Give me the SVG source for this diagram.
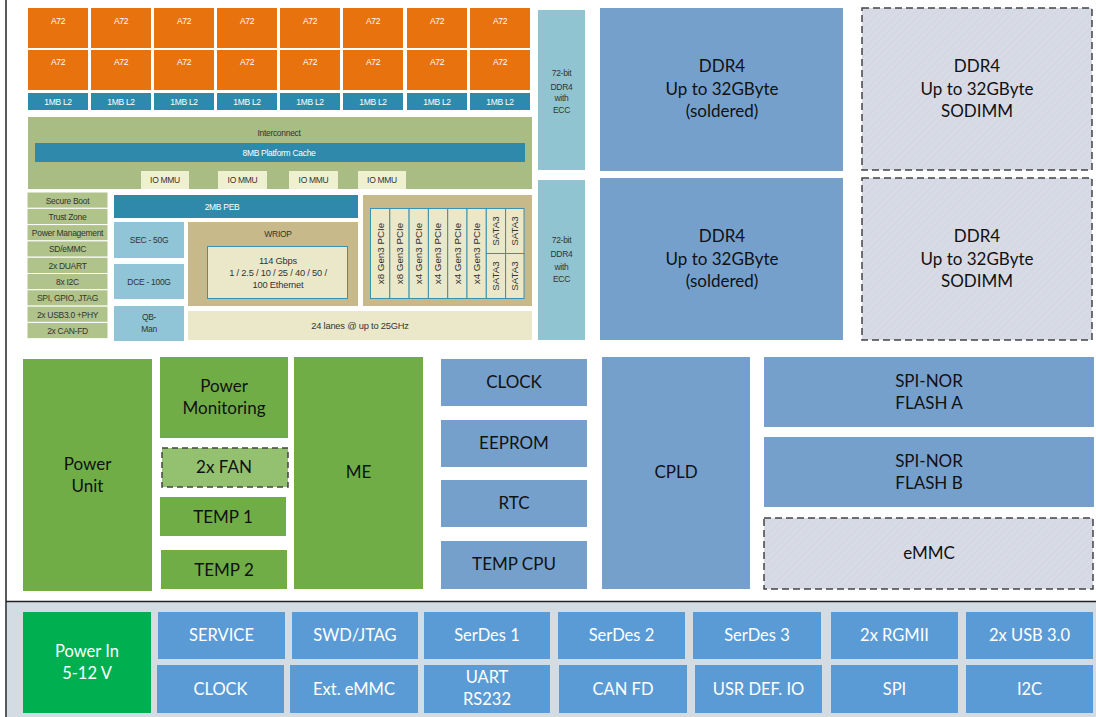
<svg xmlns="http://www.w3.org/2000/svg" width="1096" height="717" viewBox="0 0 1096 717">
<style>
.soc{font-family:"Liberation Sans",Arial,sans-serif;font-size:8.5px;text-anchor:middle;letter-spacing:-0.3px}
.soc2{font-family:"Liberation Sans",Arial,sans-serif;font-size:9.3px;text-anchor:middle;letter-spacing:-0.2px;fill:#333333}
.pci{font-family:"Liberation Sans",Arial,sans-serif;font-size:9.8px;text-anchor:middle;fill:#333333}
.w{fill:#ffffff}
.d{fill:#333333}
.big{font-family:Lato,"Open Sans","Liberation Sans",sans-serif;font-size:17px;text-anchor:middle;fill:#111111}
.bot{font-family:Lato,"Open Sans","Liberation Sans",sans-serif;font-size:16.5px;text-anchor:middle;fill:#ffffff}
.a72{fill:#e8720e}
.l2{fill:#2c8bad}
.teal{fill:#2e89aa}
.mmu{fill:#eef0d0}
.lst{fill:#b0c38a;stroke:#ffffff;stroke-width:1}
.lb{fill:#8fc5d7}
.tan{fill:#c8b98b}
.cream{fill:#ebe8ca}
.pc{fill:#ebe8ca;stroke:#3a91b0;stroke-width:1}
.ecc{fill:#90c4d0}
.ddr{fill:#76a0cc}
.sod{fill:url(#hatch);stroke:#444444;stroke-width:1.5;stroke-dasharray:7 4}
.mb{fill:#76a0cc}
.gr{fill:#70ad47}
.fan{fill:#93c170;stroke:#444444;stroke-width:1.5;stroke-dasharray:6 4}
.bb{fill:#5b9bd5}
</style>
<defs>
<pattern id="hatch" width="5" height="5" patternUnits="userSpaceOnUse" patternTransform="rotate(45)">
<rect width="5" height="5" fill="#d8dbe6"/>
<line x1="0" y1="0" x2="0" y2="5" stroke="#cdd1dd" stroke-width="1"/>
</pattern>
</defs>
<rect x="0" y="0" width="1096" height="717" fill="#ffffff"/>
<rect x="7" y="602" width="1089" height="115" fill="#d4dce3"/>
<line x1="6" y1="0" x2="6" y2="717" stroke="#222222" stroke-width="1.5"/>
<line x1="6" y1="601.5" x2="1096" y2="601.5" stroke="#222222" stroke-width="1.5"/>

<g id="connectors"></g>

<g id="cpu-cores">
<rect class="a72" x="28" y="8" width="60" height="40"/><rect class="a72" x="28" y="50" width="60" height="40"/><rect class="l2" x="28" y="93" width="60" height="17"/>
<rect class="a72" x="91" y="8" width="60" height="40"/><rect class="a72" x="91" y="50" width="60" height="40"/><rect class="l2" x="91" y="93" width="60" height="17"/>
<rect class="a72" x="154" y="8" width="60" height="40"/><rect class="a72" x="154" y="50" width="60" height="40"/><rect class="l2" x="154" y="93" width="60" height="17"/>
<rect class="a72" x="217" y="8" width="60" height="40"/><rect class="a72" x="217" y="50" width="60" height="40"/><rect class="l2" x="217" y="93" width="60" height="17"/>
<rect class="a72" x="280" y="8" width="60" height="40"/><rect class="a72" x="280" y="50" width="60" height="40"/><rect class="l2" x="280" y="93" width="60" height="17"/>
<rect class="a72" x="343" y="8" width="60" height="40"/><rect class="a72" x="343" y="50" width="60" height="40"/><rect class="l2" x="343" y="93" width="60" height="17"/>
<rect class="a72" x="407" y="8" width="60" height="40"/><rect class="a72" x="407" y="50" width="60" height="40"/><rect class="l2" x="407" y="93" width="60" height="17"/>
<rect class="a72" x="470" y="8" width="60" height="40"/><rect class="a72" x="470" y="50" width="60" height="40"/><rect class="l2" x="470" y="93" width="60" height="17"/>
<g class="soc w">
<text x="58" y="24">A72</text><text x="58" y="65">A72</text><text x="58" y="104.5">1MB L2</text>
<text x="121" y="24">A72</text><text x="121" y="65">A72</text><text x="121" y="104.5">1MB L2</text>
<text x="184" y="24">A72</text><text x="184" y="65">A72</text><text x="184" y="104.5">1MB L2</text>
<text x="247" y="24">A72</text><text x="247" y="65">A72</text><text x="247" y="104.5">1MB L2</text>
<text x="310" y="24">A72</text><text x="310" y="65">A72</text><text x="310" y="104.5">1MB L2</text>
<text x="373" y="24">A72</text><text x="373" y="65">A72</text><text x="373" y="104.5">1MB L2</text>
<text x="437" y="24">A72</text><text x="437" y="65">A72</text><text x="437" y="104.5">1MB L2</text>
<text x="500" y="24">A72</text><text x="500" y="65">A72</text><text x="500" y="104.5">1MB L2</text>
</g>
</g>

<g id="interconnect">
<rect x="28" y="117" width="504" height="72" fill="#a9bc84"/>
<text class="soc d" x="279" y="136">Interconnect</text>
<rect class="teal" x="35" y="143" width="490" height="19"/>
<text class="soc w" x="279" y="155.5">8MB Platform Cache</text>
<rect class="mmu" x="141" y="171" width="48" height="18"/>
<rect class="mmu" x="218" y="171" width="49" height="18"/>
<rect class="mmu" x="289" y="171" width="49" height="18"/>
<rect class="mmu" x="358" y="171" width="48" height="18"/>
<g class="soc d">
<text x="165" y="183">IO MMU</text><text x="242.5" y="183">IO MMU</text><text x="313.5" y="183">IO MMU</text><text x="382" y="183">IO MMU</text>
</g>
</g>

<g id="peripheral-list">
<rect class="lst" x="27" y="192" width="81" height="16.3"/>
<rect class="lst" x="27" y="208.3" width="81" height="16.3"/>
<rect class="lst" x="27" y="224.6" width="81" height="16.3"/>
<rect class="lst" x="27" y="240.9" width="81" height="16.3"/>
<rect class="lst" x="27" y="257.2" width="81" height="16.3"/>
<rect class="lst" x="27" y="273.5" width="81" height="16.3"/>
<rect class="lst" x="27" y="289.8" width="81" height="16.3"/>
<rect class="lst" x="27" y="306.1" width="81" height="16.3"/>
<rect class="lst" x="27" y="322.4" width="81" height="16.3"/>
<g class="soc d">
<text x="67.5" y="203.5">Secure Boot</text>
<text x="67.5" y="219.8">Trust Zone</text>
<text x="67.5" y="236.1">Power Management</text>
<text x="67.5" y="252.4">SD/eMMC</text>
<text x="67.5" y="268.7">2x DUART</text>
<text x="67.5" y="285">8x I2C</text>
<text x="67.5" y="301.3">SPI, GPIO, JTAG</text>
<text x="67.5" y="317.6">2x USB3.0 +PHY</text>
<text x="67.5" y="333.9">2x CAN-FD</text>
</g>
</g>

<g id="peb">
<rect class="teal" x="114" y="195" width="244" height="23"/>
<text class="soc w" x="222" y="210">2MB PEB</text>
</g>

<g id="sec">
<rect class="lb" x="114" y="222" width="70" height="36"/>
<text class="soc d" x="149" y="243">SEC - 50G</text>
</g>
<g id="dce">
<rect class="lb" x="114" y="264" width="70" height="35"/>
<text class="soc d" x="149" y="285">DCE - 100G</text>
</g>
<g id="qbman">
<rect class="lb" x="114" y="306" width="70" height="35"/>
<text class="soc d" x="149" y="320">QB-</text>
<text class="soc d" x="149" y="332">Man</text>
</g>

<g id="wriop">
<rect class="tan" x="188" y="222" width="170" height="84"/>
<text class="soc d" x="278" y="237">WRIOP</text>
<rect class="pc" x="207.5" y="246.5" width="140" height="52"/>
<text class="soc2" x="278" y="264">114 Gbps</text>
<text class="soc2" x="278" y="276">1 / 2.5 / 10 / 25 / 40 / 50 /</text>
<text class="soc2" x="278" y="288">100 Ethernet</text>
</g>

<g id="pcie">
<rect class="tan" x="363" y="195" width="169" height="111"/>
<rect class="pc" x="370.5" y="208.5" width="19.3" height="90"/>
<rect class="pc" x="389.8" y="208.5" width="19.3" height="90"/>
<rect class="pc" x="409.1" y="208.5" width="19.3" height="90"/>
<rect class="pc" x="428.4" y="208.5" width="19.3" height="90"/>
<rect class="pc" x="447.7" y="208.5" width="19.3" height="90"/>
<rect class="pc" x="467" y="208.5" width="19.3" height="90"/>
<rect class="pc" x="486.3" y="208.5" width="19.3" height="45"/>
<rect class="pc" x="486.3" y="253.5" width="19.3" height="45"/>
<rect class="pc" x="505.6" y="208.5" width="18.4" height="45"/>
<rect class="pc" x="505.6" y="253.5" width="18.4" height="45"/>
<g class="pci">
<text transform="translate(383.5,253.5) rotate(-90)">x8 Gen3 PCIe</text>
<text transform="translate(402.8,253.5) rotate(-90)">x8 Gen3 PCIe</text>
<text transform="translate(422.1,253.5) rotate(-90)">x4 Gen3 PCIe</text>
<text transform="translate(441.4,253.5) rotate(-90)">x4 Gen3 PCIe</text>
<text transform="translate(460.7,253.5) rotate(-90)">x4 Gen3 PCIe</text>
<text transform="translate(480,253.5) rotate(-90)">x4 Gen3 PCIe</text>
<text transform="translate(499.3,231) rotate(-90)">SATA3</text>
<text transform="translate(499.3,276) rotate(-90)">SATA3</text>
<text transform="translate(518.2,231) rotate(-90)">SATA3</text>
<text transform="translate(518.2,276) rotate(-90)">SATA3</text>
</g>
</g>

<g id="serdes-lanes">
<rect class="cream" x="188" y="311" width="344" height="29"/>
<text class="soc2" x="360" y="328.5">24 lanes @ up to 25GHz</text>
</g>

<g id="ecc-top">
<rect class="ecc" x="538" y="10" width="47" height="160"/>
<g class="soc d"><text x="561.5" y="76">72-bit</text><text x="561.5" y="90">DDR4</text><text x="561.5" y="101">with</text><text x="561.5" y="113">ECC</text></g>
</g>
<g id="ecc-bottom">
<rect class="ecc" x="538" y="180" width="47" height="160"/>
<g class="soc d"><text x="561.5" y="243">72-bit</text><text x="561.5" y="257">DDR4</text><text x="561.5" y="270">with</text><text x="561.5" y="282">ECC</text></g>
</g>

<g id="ddr4-soldered-1">
<rect class="ddr" x="600" y="8" width="243" height="163"/>
<text class="big" x="722" y="72">DDR4</text>
<text class="big" x="722" y="95">Up to 32GByte</text>
<text class="big" x="722" y="117">(soldered)</text>
</g>
<g id="ddr4-soldered-2">
<rect class="ddr" x="600" y="178" width="243" height="162"/>
<text class="big" x="722" y="242">DDR4</text>
<text class="big" x="722" y="265">Up to 32GByte</text>
<text class="big" x="722" y="287">(soldered)</text>
</g>
<g id="ddr4-sodimm-1">
<rect class="sod" x="862" y="8" width="230" height="162"/>
<text class="big" x="977" y="72">DDR4</text>
<text class="big" x="977" y="95">Up to 32GByte</text>
<text class="big" x="977" y="117">SODIMM</text>
</g>
<g id="ddr4-sodimm-2">
<rect class="sod" x="862" y="178" width="230" height="162"/>
<text class="big" x="977" y="242">DDR4</text>
<text class="big" x="977" y="265">Up to 32GByte</text>
<text class="big" x="977" y="287">SODIMM</text>
</g>

<g id="power-unit">
<rect class="gr" x="23" y="359" width="129" height="232"/>
<text class="big" x="87.5" y="470">Power</text>
<text class="big" x="87.5" y="492">Unit</text>
</g>
<g id="power-monitoring">
<rect class="gr" x="160" y="357" width="128" height="81"/>
<text class="big" x="224" y="392">Power</text>
<text class="big" x="224" y="414">Monitoring</text>
</g>
<g id="fan">
<rect class="fan" x="162" y="448" width="126" height="39"/>
<text class="big" x="224" y="473">2x FAN</text>
</g>
<g id="temp1">
<rect class="gr" x="160" y="497" width="126" height="39"/>
<text class="big" x="223" y="523">TEMP 1</text>
</g>
<g id="temp2">
<rect class="gr" x="161" y="550" width="126" height="39"/>
<text class="big" x="224" y="576">TEMP 2</text>
</g>
<g id="me">
<rect class="gr" x="294" y="357" width="129" height="232"/>
<text class="big" x="358.5" y="478">ME</text>
</g>

<g id="clock">
<rect class="mb" x="441" y="359" width="146" height="47"/>
<text class="big" x="514" y="388">CLOCK</text>
</g>
<g id="eeprom">
<rect class="mb" x="441" y="420" width="146" height="47"/>
<text class="big" x="514" y="449">EEPROM</text>
</g>
<g id="rtc">
<rect class="mb" x="441" y="480" width="146" height="47"/>
<text class="big" x="514" y="509">RTC</text>
</g>
<g id="temp-cpu">
<rect class="mb" x="441" y="541" width="146" height="48"/>
<text class="big" x="514" y="570">TEMP CPU</text>
</g>
<g id="cpld">
<rect class="mb" x="602" y="357" width="148" height="232"/>
<text class="big" x="676" y="478">CPLD</text>
</g>
<g id="spi-nor-a">
<rect class="mb" x="764" y="357" width="330" height="70"/>
<text class="big" x="929" y="387">SPI-NOR</text>
<text class="big" x="929" y="409">FLASH A</text>
</g>
<g id="spi-nor-b">
<rect class="mb" x="764" y="437" width="330" height="70"/>
<text class="big" x="929" y="467">SPI-NOR</text>
<text class="big" x="929" y="489">FLASH B</text>
</g>
<g id="emmc">
<rect class="sod" x="764" y="518" width="329" height="71"/>
<text class="big" x="929" y="559">eMMC</text>
</g>

<g id="power-in">
<rect x="23" y="612" width="128" height="101" fill="#00b050"/>
<text class="bot" x="87" y="657">Power In</text>
<text class="bot" x="87" y="679">5-12 V</text>
</g>
<g id="service"><rect class="bb" x="158" y="612" width="127" height="47"/><text class="bot" x="221.5" y="641">SERVICE</text></g>
<g id="swd-jtag"><rect class="bb" x="292" y="612" width="126" height="47"/><text class="bot" x="355" y="641">SWD/JTAG</text></g>
<g id="serdes1"><rect class="bb" x="424" y="612" width="126" height="47"/><text class="bot" x="487" y="641">SerDes 1</text></g>
<g id="serdes2"><rect class="bb" x="558" y="612" width="127" height="47"/><text class="bot" x="621.5" y="641">SerDes 2</text></g>
<g id="serdes3"><rect class="bb" x="693" y="612" width="128" height="47"/><text class="bot" x="757" y="641">SerDes 3</text></g>
<g id="rgmii"><rect class="bb" x="831" y="612" width="127" height="47"/><text class="bot" x="894.5" y="641">2x RGMII</text></g>
<g id="usb3"><rect class="bb" x="966" y="612" width="127" height="47"/><text class="bot" x="1029.5" y="641">2x USB 3.0</text></g>

<g id="clock-io"><rect class="bb" x="157" y="665" width="127" height="48"/><text class="bot" x="220.5" y="695">CLOCK</text></g>
<g id="ext-emmc"><rect class="bb" x="290" y="665" width="128" height="48"/><text class="bot" x="354" y="695">Ext. eMMC</text></g>
<g id="uart"><rect class="bb" x="424" y="665" width="126" height="48"/><text class="bot" x="487" y="683">UART</text><text class="bot" x="487" y="705">RS232</text></g>
<g id="can-fd"><rect class="bb" x="559" y="665" width="128" height="48"/><text class="bot" x="623" y="695">CAN FD</text></g>
<g id="usr-def-io"><rect class="bb" x="695" y="665" width="127" height="48"/><text class="bot" x="758.5" y="695">USR DEF. IO</text></g>
<g id="spi"><rect class="bb" x="831" y="665" width="127" height="48"/><text class="bot" x="894.5" y="695">SPI</text></g>
<g id="i2c"><rect class="bb" x="966" y="665" width="127" height="48"/><text class="bot" x="1029.5" y="695">I2C</text></g>
</svg>
